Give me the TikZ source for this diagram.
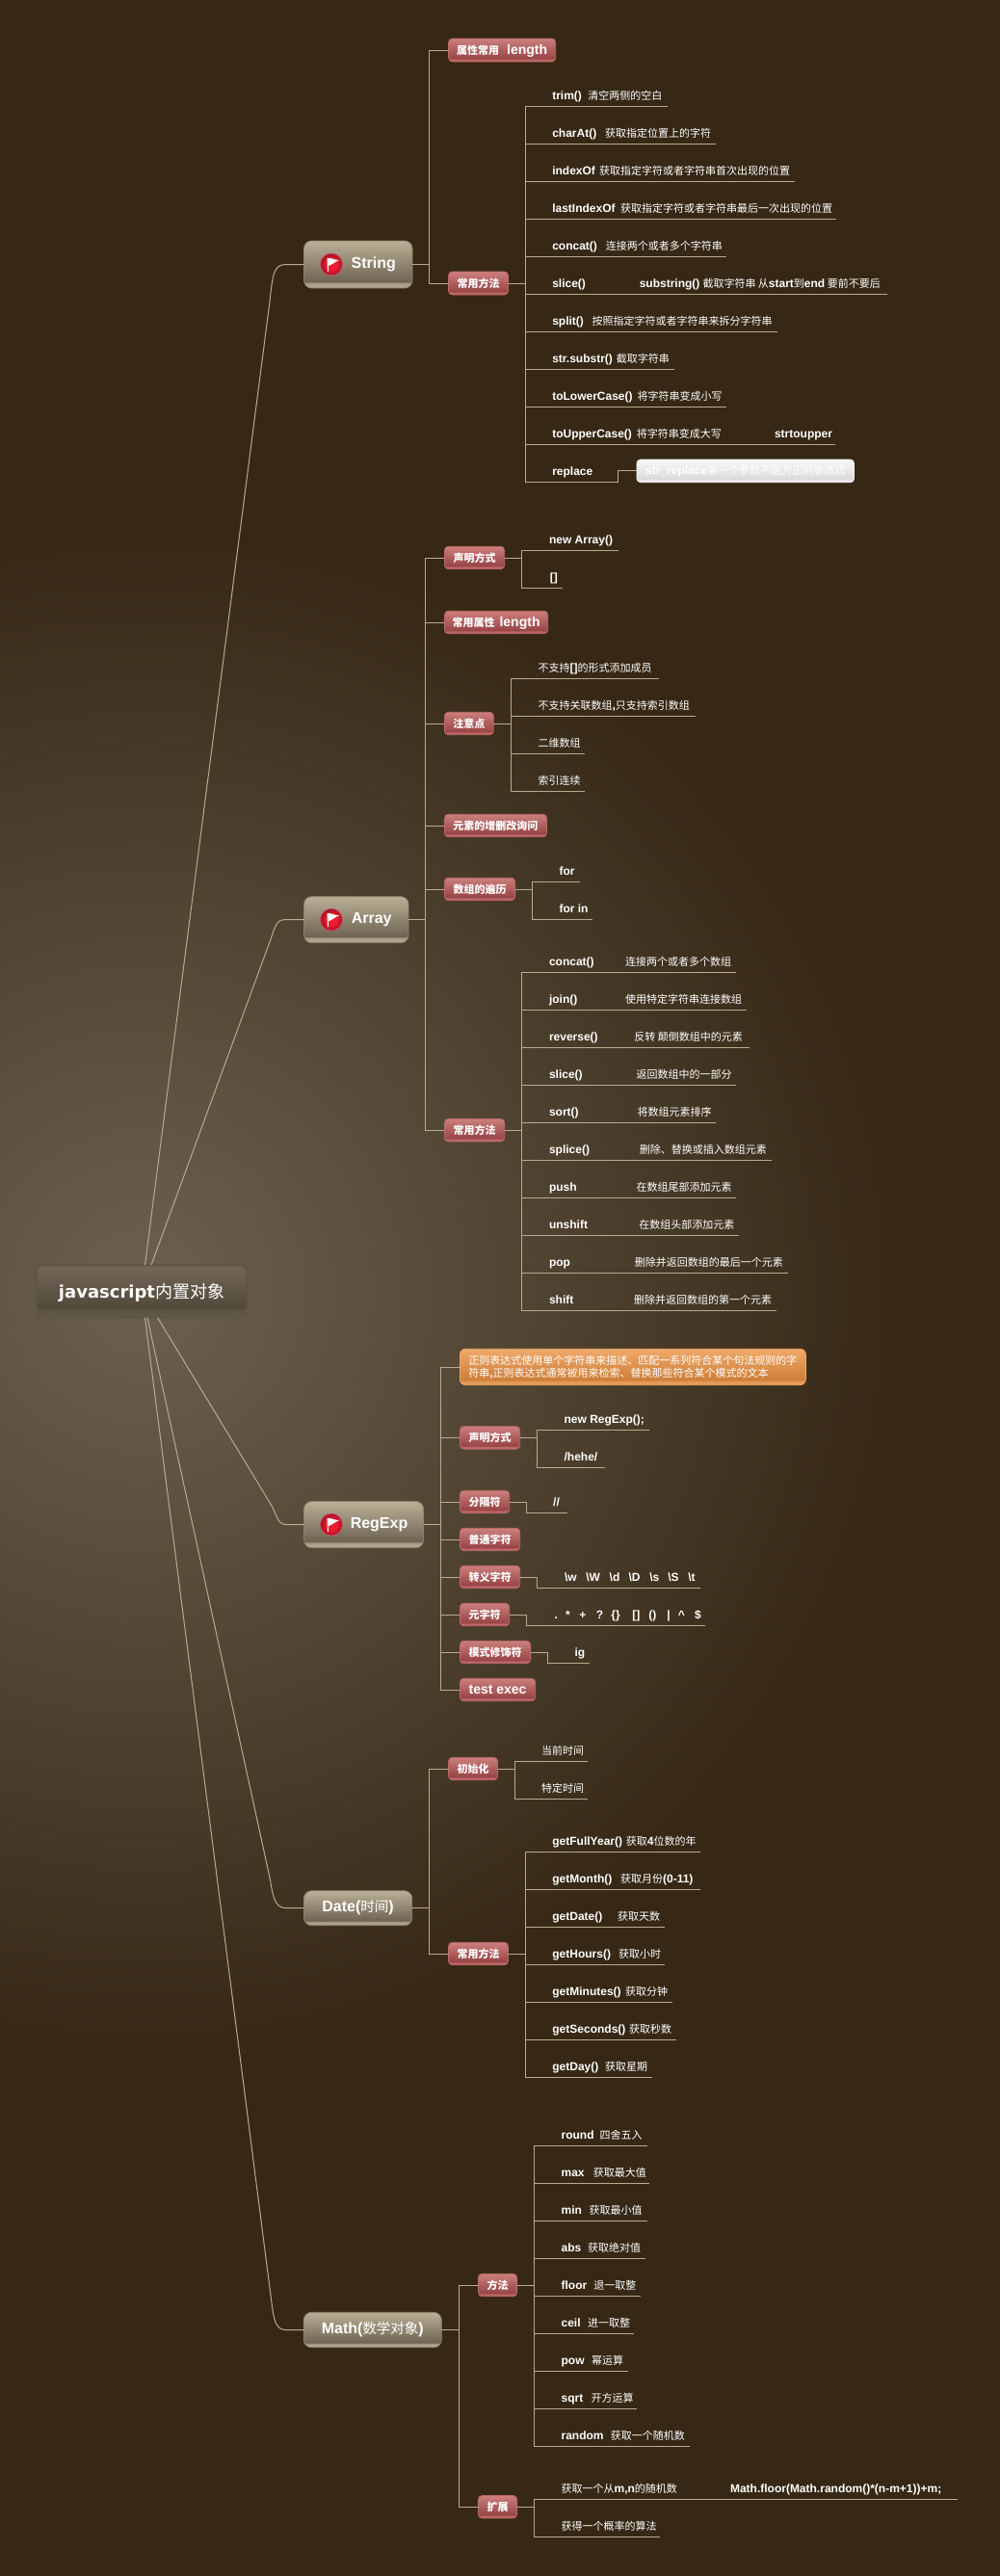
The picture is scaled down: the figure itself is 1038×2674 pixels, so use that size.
\documentclass[tikz,border=0pt]{standalone}
\usepackage{fontspec}
\setmainfont{Liberation Sans}
\newfontfamily\cjk{Noto Sans CJK SC}
\newfontfamily\rootlat{DejaVu Sans}
\usetikzlibrary{calc}
\definecolor{bgo}{HTML}{362815}
\definecolor{bgc}{HTML}{6C6151}
\definecolor{linec}{HTML}{B8AB90}
\definecolor{aT}{HTML}{BBAF96}\definecolor{aM}{HTML}{6F6553}\definecolor{aB}{HTML}{B7AB92}
\definecolor{bT}{HTML}{CC7F7C}\definecolor{bM}{HTML}{984546}\definecolor{bB}{HTML}{C46D6C}
\definecolor{cT}{HTML}{F0A96A}\definecolor{cM}{HTML}{CE7F39}\definecolor{cB}{HTML}{E9A060}
\definecolor{dT}{HTML}{F9F9F9}\definecolor{dM}{HTML}{DADADA}\definecolor{dB}{HTML}{F0F0F0}
\definecolor{rT}{HTML}{72675A}\definecolor{rM}{HTML}{534939}\definecolor{rB}{HTML}{625848}
\definecolor{flagI}{HTML}{EE1C2E}\definecolor{flagO}{HTML}{A50E24}
\pgfdeclareradialshading{bgrad}{\pgfpointorigin}{color(0bp)=(bgc); color(25bp)=(bgo); color(50bp)=(bgo)}
\pgfdeclareradialshading{flagrad}{\pgfpointorigin}{color(0bp)=(flagI); color(12bp)=(flagI); color(25bp)=(flagO); color(50bp)=(flagO)}
\pgfdeclareverticalshading{ashade}{100bp}{color(0bp)=(aB); color(25bp)=(aB); color(30bp)=(aB!80!aM); color(32bp)=(aM); color(75bp)=(aT); color(100bp)=(aT)}
\pgfdeclareverticalshading{bshade}{100bp}{color(0bp)=(bB); color(25bp)=(bB); color(30bp)=(bB!80!bM); color(32bp)=(bM); color(75bp)=(bT); color(100bp)=(bT)}
\pgfdeclareverticalshading{cshade}{100bp}{color(0bp)=(cB); color(25bp)=(cB); color(30bp)=(cB!70!cM); color(32bp)=(cM); color(75bp)=(cT); color(100bp)=(cT)}
\pgfdeclareverticalshading{dshade}{100bp}{color(0bp)=(dB); color(25bp)=(dB); color(30bp)=(dB!70!dM); color(32bp)=(dM); color(75bp)=(dT); color(100bp)=(dT)}
\pgfdeclareverticalshading{rshade}{100bp}{color(0bp)=(rB); color(25bp)=(rB); color(32bp)=(rB!70!rM); color(35bp)=(rM); color(75bp)=(rT); color(100bp)=(rT)}
\newcommand\lat[1]{{\bfseries #1}}
\newcommand\zh[1]{{\cjk\fontsize{11}{13}\selectfont #1}}
\newcommand\zhb[1]{{\cjk\bfseries\fontsize{11}{13}\selectfont #1}}
\newcommand\zhl[1]{{\cjk\fontsize{14.5}{17}\selectfont #1}}
\newcommand\pos[2]{\makebox[#1pt][l]{#2}}
\newcommand\tbox[7]{\node[#1,minimum width={#4-#3},minimum height={#6-#5}] (#2) at ({(#3+#4)/2},{(#5+#6)/2}) {#7};}
\newcommand\leaf[6]{%
  \node[leaftxt,anchor=base west] (#2) at (#4,{#3-7}) {#6};
  \coordinate (#2-e) at (#5,#3);
  \draw[conn] (#1.east) -- ++(18,0) |- (#2-e);}
\newcommand\branch[2]{\draw[conn] (#1.east) -- ++(17.7,0) |- (#2.west);}
\newcommand\flagicon[3]{%
  \node[flagball] (#1) at (#2,#3) {};
  \begin{scope}[shift={(#2,#3)}]
    \fill[white!96!gray] (-4,-6.7) .. controls (0,-7) and (4,-4) .. (8.7,-4.7) .. controls (4,-3) and (1,0) .. (-3,1.7) -- cycle;
    \draw[white!96!gray,line width=1pt] (-4,-6.7) -- (-3.6,7.5);
  \end{scope}}
\tikzset{
  conn/.style={draw=linec,line width=1pt,line join=miter},
  leaftxt/.style={text=white,inner sep=0pt,outer sep=0pt,font=\fontsize{12}{14}\selectfont},
  boxbase/.style={inner sep=0pt,outer sep=0pt,text=white},
  boxa/.style={boxbase,shading=ashade,draw=aM!60!aT,line width=0.8pt,rounded corners=8pt,font=\fontsize{16}{18}\selectfont,text height=11,text depth=3},
  boxb/.style={boxbase,shading=bshade,draw=bB!90!bM,line width=0.8pt,rounded corners=4pt,font=\fontsize{14}{16}\selectfont,text height=10,text depth=2},
  boxc/.style={boxbase,shading=cshade,draw=cT,line width=0.8pt,rounded corners=6pt,align=left,font=\fontsize{12}{13}\selectfont},
  boxd/.style={boxbase,shading=dshade,draw=dT,line width=0.8pt,rounded corners=4pt,font=\fontsize{12}{14}\selectfont,text height=10,text depth=2},
  boxr/.style={boxbase,shading=rshade,draw=rB!85!rM,line width=2.5pt,rounded corners=8pt,text height=17,text depth=4},
  flagball/.style={circle,shading=flagrad,draw=flagO!70!white,line width=0.9pt,minimum size=23pt,inner sep=0pt}
}
\begin{document}
\begin{tikzpicture}[x=1pt,y=-1pt]
\useasboundingbox (0,0) rectangle (1038,2674);
\fill[bgo] (0,0) rectangle (1038,2674);
\begin{scope}
  \clip (0,0) rectangle (1038,2674);
  \shade[shading=bgrad] (147,1340) circle (790);
\end{scope}

% root and main branches
\tbox{boxr}{root}{37.25}{256.75}{1313.25}{1367.75}{{\rootlat\bfseries\fontsize{18}{20}\selectfont javascript}{\cjk\fontsize{18}{20}\selectfont 内置对象}}
\tbox{boxa}{S}{315.5}{428}{250}{299}{\hspace*{32pt}\lat{String}}
\tbox{boxa}{A}{315.5}{424}{930.7}{978.7}{\hspace*{32pt}\lat{Array}}
\tbox{boxa}{R}{315.5}{439.6}{1558.5}{1606.7}{\hspace*{32pt}\lat{RegExp}}
\tbox{boxa}{D}{315.5}{427.7}{1962.7}{1998.7}{\lat{Date(}\zhl{时间}\lat{)}}
\tbox{boxa}{M}{315.3}{458.3}{2400.3}{2436.7}{\lat{Math(}\zhl{数学对象}\lat{)}}
\flagicon{Sf}{344}{274.5}
\flagicon{Af}{344}{954.7}
\flagicon{Rf}{344}{1582.6}

\draw[conn] (S.west) -- (297,274.5) .. controls (284,274.5) and (283,285) .. (280,313) -- (root);
\draw[conn] (A.west) -- (295,954.7) .. controls (287,954.7) and (285,963) .. (281,975) -- (root);
\draw[conn] (R.west) -- (297,1582.6) .. controls (288,1582.6) and (287,1572) .. (282,1563) -- (root);
\draw[conn] (D.west) -- (297,1980.7) .. controls (284,1980.7) and (283,1965) .. (280,1949) -- (root);
\draw[conn] (M.west) -- (297,2418.5) .. controls (284,2418.5) and (284,2405) .. (280,2375) -- (root);

% String
\tbox{boxb}{S1}{465.6}{576.7}{40}{64}{\zhb{属性常用}\hspace{8pt}\lat{length}}
\tbox{boxb}{S2}{465.6}{527.5}{282}{306}{\zhb{常用方法}}
\branch{S}{S1}
\branch{S}{S2}
\leaf{S2}{s1}{110.3}{573.3}{692.5}{\pos{37.1}{\lat{trim()}}\zh{清空两侧的空白}}
\leaf{S2}{s2}{149.3}{573.3}{742.5}{\pos{54.7}{\lat{charAt()}}\zh{获取指定位置上的字符}}
\leaf{S2}{s3}{188.3}{573.3}{824.6}{\pos{48.9}{\lat{indexOf}}\zh{获取指定字符或者字符串首次出现的位置}}
\leaf{S2}{s4}{227.3}{573.3}{868}{\pos{70.7}{\lat{lastIndexOf}}\zh{获取指定字符或者字符串最后一次出现的位置}}
\leaf{S2}{s5}{266.5}{573.3}{753.5}{\pos{55.6}{\lat{concat()}}\zh{连接两个或者多个字符串}}
\leaf{S2}{s6}{305.3}{573.3}{920.6}{\pos{90.5}{\lat{slice()}}\pos{65.7}{\lat{substring()}}\zh{截取字符串 从}\lat{start}\zh{到}\lat{end}\zh{ 要前不要后}}
\leaf{S2}{s7}{344.3}{573.3}{806.5}{\pos{41.3}{\lat{split()}}\zh{按照指定字符或者字符串来拆分字符串}}
\leaf{S2}{s8}{383.5}{573.3}{699.6}{\pos{66.6}{\lat{str.substr()}}\zh{截取字符串}}
\leaf{S2}{s9}{422.3}{573.3}{753.5}{\pos{88.4}{\lat{toLowerCase()}}\zh{将字符串变成小写}}
\leaf{S2}{s10}{461.3}{573.3}{866.7}{\pos{87.6}{\lat{toUpperCase()}}\pos{143.1}{\zh{将字符串变成大写}}\lat{strtoupper}}
\leaf{S2}{s11}{500.5}{573.3}{641.5}{\lat{replace}}
\tbox{boxd}{s12}{661}{886.5}{477}{500.7}{\lat{str\_replace}\zh{第一个参数不能为正则表达式}}
\draw[conn] (s11-e) |- (s12.west);

% Array
\tbox{boxb}{A1}{461.4}{523.7}{567.3}{590.7}{\zhb{声明方式}}
\tbox{boxb}{A2}{461.4}{568.7}{634.3}{657.7}{\zhb{常用属性}\hspace{5pt}\lat{length}}
\tbox{boxb}{A3}{461.4}{512.3}{739.3}{762.7}{\zhb{注意点}}
\tbox{boxb}{A4}{461.4}{567.5}{845.3}{868.7}{\zhb{元素的增删改询问}}
\tbox{boxb}{A5}{461.4}{534.6}{911.3}{934.7}{\zhb{数组的遍历}}
\tbox{boxb}{A6}{461.4}{523.7}{1161.5}{1184.9}{\zhb{常用方法}}
\foreach \b in {A1,A2,A3,A4,A5,A6}{\branch{A}{\b}}
\leaf{A1}{a1}{571.3}{570}{642.4}{\lat{new Array()}}
\leaf{A1}{a2}{610.3}{570.8}{584.3}{\lat{[]}}
\leaf{A3}{a3}{704.3}{558.6}{683.6}{\zh{不支持}\lat{[]}\zh{的形式添加成员}}
\leaf{A3}{a4}{743.3}{558.6}{721.5}{\zh{不支持关联数组}\lat{,}\zh{只支持索引数组}}
\leaf{A3}{a5}{782.3}{558.6}{606.6}{\zh{二维数组}}
\leaf{A3}{a6}{821.3}{558.6}{606.6}{\zh{索引连续}}
\leaf{A5}{a7}{915.3}{580.5}{601.5}{\lat{for}}
\leaf{A5}{a8}{954.3}{580.5}{615.4}{\lat{for in}}
\leaf{A6}{a9}{1009.3}{570}{763.6}{\pos{79.1}{\lat{concat()}}\zh{连接两个或者多个数组}}
\leaf{A6}{a10}{1048.3}{570}{774.5}{\pos{79.1}{\lat{join()}}\zh{使用特定字符串连接数组}}
\leaf{A6}{a11}{1087.3}{570}{777.5}{\pos{88.4}{\lat{reverse()}}\zh{反转 颠倒数组中的元素}}
\leaf{A6}{a12}{1126.3}{570}{764.4}{\pos{90.5}{\lat{slice()}}\zh{返回数组中的一部分}}
\leaf{A6}{a13}{1165.3}{570}{743.4}{\pos{91.7}{\lat{sort()}}\zh{将数组元素排序}}
\leaf{A6}{a14}{1204.3}{570}{800.6}{\pos{93.8}{\lat{splice()}}\zh{删除、替换或插入数组元素}}
\leaf{A6}{a15}{1243.3}{570}{764.4}{\pos{90.5}{\lat{push}}\zh{在数组尾部添加元素}}
\leaf{A6}{a16}{1282.3}{570}{767.4}{\pos{93.4}{\lat{unshift}}\zh{在数组头部添加元素}}
\leaf{A6}{a17}{1321.3}{570}{817.5}{\pos{88.8}{\lat{pop}}\zh{删除并返回数组的最后一个元素}}
\leaf{A6}{a18}{1360.3}{570}{805.7}{\pos{88}{\lat{shift}}\zh{删除并返回数组的第一个元素}}

% RegExp
\tbox{boxc}{R0}{477.4}{836.4}{1400.3}{1437.7}{\zh{正则表达式使用单个字符串来描述、匹配一系列符合某个句法规则的字}\\\zh{符串}\lat{,}\zh{正则表达式通常被用来检索、替换那些符合某个模式的文本}}
\tbox{boxb}{R1}{477.4}{539.7}{1480.7}{1504.1}{\zhb{声明方式}}
\tbox{boxb}{R2}{477.4}{528.7}{1547.3}{1570.7}{\zhb{分隔符}}
\tbox{boxb}{R3}{477.4}{539.7}{1586.3}{1609.7}{\zhb{普通字符}}
\tbox{boxb}{R4}{477.4}{539.7}{1625.3}{1648.7}{\zhb{转义字符}}
\tbox{boxb}{R5}{477.4}{528.7}{1664.3}{1687.7}{\zhb{元字符}}
\tbox{boxb}{R6}{477.4}{550.6}{1703.3}{1726.7}{\zhb{模式修饰符}}
\tbox{boxb}{R7}{477.4}{555.7}{1742.3}{1765.7}{\lat{test exec}}
\foreach \b in {R0,R1,R2,R3,R4,R5,R6,R7}{\branch{R}{\b}}
\leaf{R1}{r1}{1484.3}{585.6}{674.4}{\lat{new RegExp();}}
\leaf{R1}{r2}{1523.3}{585.6}{627.6}{\lat{/hehe/}}
\leaf{R2}{r3}{1570.3}{574.2}{589.3}{\lat{//}}
\leaf{R4}{r4}{1648.3}{586}{727.4}{\pos{22.3}{\lat{\textbackslash w}}\pos{24.4}{\lat{\textbackslash W}}\pos{19.8}{\lat{\textbackslash d}}\pos{21.9}{\lat{\textbackslash D}}\pos{18.9}{\lat{\textbackslash s}}\pos{21}{\lat{\textbackslash S}}\lat{\textbackslash t}}
\leaf{R5}{r5}{1687.3}{575.5}{732.4}{\pos{11.7}{\lat{.}}\pos{14.3}{\lat{*}}\pos{17.3}{\lat{+}}\pos{15.6}{\lat{?}}\pos{21.9}{\lat{\{\}}}\pos{17.2}{\lat{[]}}\pos{19}{\lat{()}}\pos{11.3}{\lat{|}}\pos{17.2}{\lat{\textasciicircum}}\lat{\$}}
\leaf{R6}{r6}{1726.3}{596.5}{611.6}{\lat{ig}}

% Date
\tbox{boxb}{D1}{465.6}{516.5}{1824.3}{1847.7}{\zhb{初始化}}
\tbox{boxb}{D2}{465.6}{527.5}{2016.3}{2039.7}{\zhb{常用方法}}
\branch{D}{D1}
\branch{D}{D2}
\leaf{D1}{d1}{1828.3}{562}{610.4}{\zh{当前时间}}
\leaf{D1}{d2}{1867.3}{562}{610.4}{\zh{特定时间}}
\leaf{D2}{d3}{1922.3}{573.4}{727.4}{\pos{76.5}{\lat{getFullYear()}}\zh{获取}\lat{4}\zh{位数的年}}
\leaf{D2}{d4}{1961.3}{573.4}{727.4}{\pos{70.7}{\lat{getMonth()}}\zh{获取月份}\lat{(0-11)}}
\leaf{D2}{d5}{2000.3}{573.4}{689.5}{\pos{67.7}{\lat{getDate()}}\zh{获取天数}}
\leaf{D2}{d6}{2039.3}{573.4}{690.4}{\pos{68.6}{\lat{getHours()}}\zh{获取小时}}
\leaf{D2}{d7}{2078.3}{573.4}{697.5}{\pos{75.7}{\lat{getMinutes()}}\zh{获取分钟}}
\leaf{D2}{d8}{2117.3}{573.4}{701.7}{\pos{79.6}{\lat{getSeconds()}}\zh{获取秒数}}
\leaf{D2}{d9}{2156.3}{573.4}{676.5}{\pos{54.7}{\lat{getDay()}}\zh{获取星期}}

% Math
\tbox{boxb}{M1}{496.5}{536.6}{2360.3}{2383.7}{\zhb{方法}}
\tbox{boxb}{M2}{496.5}{536.6}{2590.5}{2613.9}{\zhb{扩展}}
\branch{M}{M1}
\branch{M}{M2}
\leaf{M1}{m1}{2227.3}{582.6}{671.5}{\pos{40.1}{\lat{round}}\zh{四舍五入}}
\leaf{M1}{m2}{2266.3}{582.6}{674.4}{\pos{33.3}{\lat{max}}\zh{获取最大值}}
\leaf{M1}{m3}{2305.3}{582.6}{671.5}{\pos{29}{\lat{min}}\zh{获取最小值}}
\leaf{M1}{m4}{2344.3}{582.6}{669.6}{\pos{27.5}{\lat{abs}}\zh{获取绝对值}}
\leaf{M1}{m5}{2383.3}{582.6}{665.2}{\pos{33.8}{\lat{floor}}\zh{退一取整}}
\leaf{M1}{m6}{2422.3}{582.6}{658.4}{\pos{27.5}{\lat{ceil}}\zh{进一取整}}
\leaf{M1}{m7}{2461.3}{582.6}{651.7}{\pos{31.4}{\lat{pow}}\zh{幂运算}}
\leaf{M1}{m8}{2500.3}{582.6}{661.3}{\pos{30.9}{\lat{sqrt}}\zh{开方运算}}
\leaf{M1}{m9}{2539.3}{582.6}{715.5}{\pos{51.2}{\lat{random}}\zh{获取一个随机数}}
\leaf{M2}{m10}{2594.3}{582.6}{994.4}{\pos{175.4}{\zh{获取一个从}\lat{m,n}\zh{的随机数}}\lat{Math.floor(Math.random()*(n-m+1))+m;}}
\leaf{M2}{m11}{2633.3}{582.6}{685}{\zh{获得一个概率的算法}}
\end{tikzpicture}
\end{document}
